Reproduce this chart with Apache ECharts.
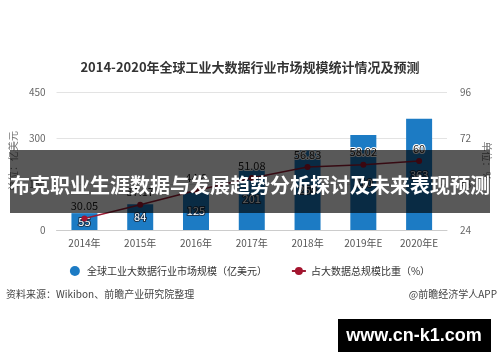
<!DOCTYPE html>
<html>
<head>
<meta charset="utf-8">
<script src="https://cdn.jsdelivr.net/npm/echarts@6/dist/echarts.min.js"></script>
<style>
html,body{margin:0;padding:0;background:#fff;}
#c{width:500px;height:362px;}
</style>
</head>
<body>
<div id="c"></div>
<script>
const categories = ['2014年','2015年','2016年','2017年','2018年','2019年E','2020年E'];
const marketSize = [55, 84, 125, 201, 259, 310, 363];
const shareRatio = [30.05, 37.17, 44.6, 51.08, 56.83, 58.02, 60];
const leftTicks = [0, 150, 300, 450];
const rightTicks = [24, 48, 72, 96];

const barName = '全球工业大数据行业市场规模（亿美元）';
const lineName = '占大数据总规模比重（%）';
const FONT = '"Noto Sans CJK SC", "Noto Sans", sans-serif';

const chart = echarts.init(document.getElementById('c'), null, {renderer:'canvas'});
chart.setOption({
  backgroundColor:'#fff',
  animation:false,
  textStyle:{fontFamily:FONT},
  title:{
    text:'2014-2020年全球工业大数据行业市场规模统计情况及预测',
    left:'center', top:56,
    textStyle:{fontSize:13, fontWeight:'bold', color:'#333', fontFamily:FONT}
  },
  legend:{
    top:261, left:'center', itemGap:24, itemWidth:14, itemHeight:10,
    textStyle:{fontSize:10, color:'#333', fontFamily:FONT},
    data:[{name:barName, icon:'circle'},{name:lineName}]
  },
  grid:{left:55, right:51, top:92, bottom:132},
  xAxis:{
    type:'category', data:categories,
    axisLine:{lineStyle:{color:'#ccc'}},
    axisTick:{show:false},
    axisLabel:{color:'#555', fontSize:10, margin:8, fontFamily:FONT}
  },
  yAxis:[{
    type:'value', min:leftTicks[0], max:leftTicks[leftTicks.length-1], interval:leftTicks[1]-leftTicks[0],
    name:'单位：亿美元', nameLocation:'middle', nameGap:38, nameRotate:90,
    nameTextStyle:{color:'#777', fontSize:10, fontFamily:FONT},
    axisLine:{show:false}, axisTick:{show:false},
    axisLabel:{color:'#666', fontSize:10, margin:11},
    splitLine:{lineStyle:{color:'#e3e3e3'}}
  },{
    type:'value', min:rightTicks[0], max:rightTicks[rightTicks.length-1], interval:rightTicks[1]-rightTicks[0],
    name:'单位：%', nameLocation:'middle', nameGap:31, nameRotate:-90,
    nameTextStyle:{color:'#777', fontSize:10, fontFamily:FONT},
    axisLine:{show:false}, axisTick:{show:false},
    axisLabel:{color:'#666', fontSize:10, margin:13},
    splitLine:{show:false}
  }],
  series:[{
    name:barName, type:'bar', data:marketSize, barWidth:26,
    itemStyle:{color:'#1c7bc4'},
    label:{show:true, position:'inside', color:'#fff', fontSize:11,
      textBorderColor:'#1a3550', textBorderWidth:2, fontFamily:FONT}
  },{
    name:lineName, type:'line', yAxisIndex:1, data:shareRatio,
    symbol:'circle', symbolSize:6,
    lineStyle:{color:'#9b1d35', width:1.5},
    itemStyle:{color:'#a5142e'},
    label:{show:true, position:'top', distance:4, color:'#222', fontSize:11,
      textBorderColor:'#fff', textBorderWidth:2, fontFamily:FONT}
  }],
  graphic:[
    {type:'text', left:6, top:289, style:{text:'资料来源：Wikibon、前瞻产业研究院整理', fill:'#444', fontSize:10, fontFamily:FONT}},
    {type:'text', right:3, top:289, style:{text:'@前瞻经济学人APP', fill:'#444', fontSize:10, fontFamily:FONT}},
    {type:'rect', shape:{x:10, y:150, width:480, height:63}, style:{fill:'rgba(0,0,0,0.65)'}, z:100},
    {type:'text', x:250, y:185, z:101, style:{text:'布克职业生涯数据与发展趋势分析探讨及未来表现预测', fill:'#fff', fontSize:20, fontWeight:'bold', fontFamily:FONT, align:'center', verticalAlign:'middle'}},
    {type:'rect', shape:{x:338, y:319, width:153, height:33}, style:{fill:'#000'}, z:100},
    {type:'text', x:414, y:336, z:101, style:{text:'www.cn-k1.com', fill:'#fff', fontSize:18, fontWeight:'bold', fontFamily:'"Liberation Sans", sans-serif', align:'center', verticalAlign:'middle'}}
  ]
});
</script>
</body>
</html>
